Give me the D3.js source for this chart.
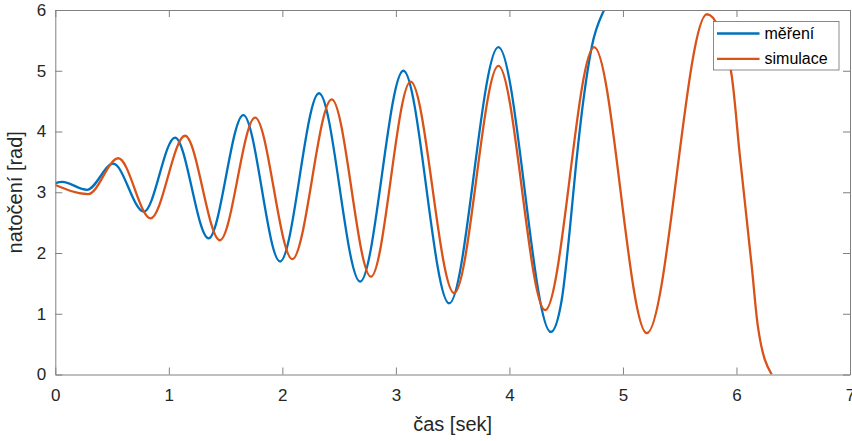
<!DOCTYPE html>
<html>
<head>
<meta charset="utf-8">
<script src="https://cdn.jsdelivr.net/npm/d3@7"></script>
<style>
  body { margin: 0; background: #fff; }
  svg { display: block; font-family: "Liberation Sans", Arial, Helvetica, sans-serif; }
</style>
</head>
<body>
<svg id="chart" width="852" height="441"></svg>
<script>
// time [s] and angle [rad] (extrema + a few points in between)
const mereniT = [0, 0.06, 0.28, 0.51, 0.78, 1.055, 1.35, 1.656, 1.98, 2.323, 2.685, 3.066, 3.469, 3.903, 4.365, 4.461, 4.529, 4.585, 4.652, 4.726, 4.834, 4.93];
const mereniV = [3.15, 3.17, 3.04, 3.47, 2.68, 3.90, 2.24, 4.27, 1.86, 4.63, 1.53, 5.00, 1.17, 5.39, 0.70, 1.23, 2.33, 3.42, 4.52, 5.40, 6.00, 6.30];

const simulaceT = [0, 0.29, 0.555, 0.84, 1.143, 1.45, 1.76, 2.088, 2.435, 2.78, 3.13, 3.513, 3.903, 4.315, 4.746, 5.21, 5.74, 5.95, 6.03, 6.135, 6.188, 6.31];
const simulaceV = [3.12, 2.97, 3.56, 2.57, 3.93, 2.21, 4.23, 1.90, 4.53, 1.61, 4.82, 1.34, 5.08, 1.06, 5.39, 0.68, 5.93, 5.01, 3.60, 1.77, 0.80, 0.0];

const xTicks = [0, 1, 2, 3, 4, 5, 6, 7];
const yTicks = [0, 1, 2, 3, 4, 5, 6];
const seriesNames = ["měření", "simulace"];
const seriesColors = ["#0072BD", "#D95319"];

const svg = d3.select("#chart");
const margin = {left: 55.3, top: 10, right: 2, bottom: 66.5};
const W = 852 - margin.left - margin.right;
const H = 441 - margin.top - margin.bottom;

const x = d3.scaleLinear().domain([0, 7]).range([0, W]);
const y = d3.scaleLinear().domain([0, 6]).range([H, 0]);

const g = svg.append("g").attr("transform", `translate(${margin.left},${margin.top})`);

g.append("clipPath").attr("id", "clip")
  .append("rect").attr("width", W).attr("height", H);

const line = d3.line()
  .x(d => x(d[0]))
  .y(d => y(d[1]))
  .curve(d3.curveMonotoneX);

const series = [
  d3.zip(mereniT, mereniV),
  d3.zip(simulaceT, simulaceV)
];

g.append("g").attr("clip-path", "url(#clip)")
  .selectAll("path")
  .data(series)
  .join("path")
  .attr("d", line)
  .attr("fill", "none")
  .attr("stroke", (d, i) => seriesColors[i])
  .attr("stroke-width", 2.3)
  .attr("stroke-linejoin", "round");

// axes (MATLAB style: box on, ticks inward)
const axisColor = "#808080";
const fmt = d3.format("d");
const xAxis = g.append("g").attr("transform", `translate(0,${H})`)
  .call(d3.axisBottom(x).tickValues(xTicks).tickFormat(fmt).tickSizeInner(-7).tickSizeOuter(0).tickPadding(14));
const yAxis = g.append("g")
  .call(d3.axisLeft(y).tickValues(yTicks).tickFormat(fmt).tickSizeInner(-7).tickSizeOuter(0).tickPadding(9));
const xTop = g.append("g")
  .call(d3.axisTop(x).tickValues(xTicks).tickSizeInner(-7).tickSizeOuter(0).tickFormat(""));
const yRight = g.append("g").attr("transform", `translate(${W},0)`)
  .call(d3.axisRight(y).tickValues(yTicks).tickSizeInner(-7).tickSizeOuter(0).tickFormat(""));

[xAxis, yAxis, xTop, yRight].forEach(a => {
  a.select(".domain").attr("stroke", axisColor).attr("stroke-width", 1);
  a.selectAll(".tick line").attr("stroke", axisColor);
  a.selectAll(".tick text").attr("fill", "#262626").style("font-size", "17px");
});

g.append("text")
  .attr("x", W / 2)
  .attr("y", H + 56)
  .attr("text-anchor", "middle")
  .attr("fill", "#262626")
  .style("font-size", "20px")
  .text("čas [sek]");

g.append("text")
  .attr("transform", `translate(${-33},${H / 2}) rotate(-90)`)
  .attr("text-anchor", "middle")
  .attr("fill", "#262626")
  .style("font-size", "20px")
  .text("natočení [rad]");

// legend
const leg = svg.append("g").attr("transform", "translate(713.5,21.5)");
leg.append("rect")
  .attr("width", 125.5).attr("height", 48.5)
  .attr("fill", "#fff").attr("stroke", "#6e6e6e").attr("stroke-width", 0.8);
seriesNames.forEach((name, i) => {
  const yy = 12 + i * 25.3;
  leg.append("line")
    .attr("x1", 3.5).attr("x2", 46).attr("y1", yy).attr("y2", yy)
    .attr("stroke", seriesColors[i]).attr("stroke-width", 2.3);
  leg.append("text")
    .attr("x", 51).attr("y", yy + 5.5)
    .attr("fill", "#000")
    .style("font-size", "16px")
    .text(name);
});
</script>
</body>
</html>
